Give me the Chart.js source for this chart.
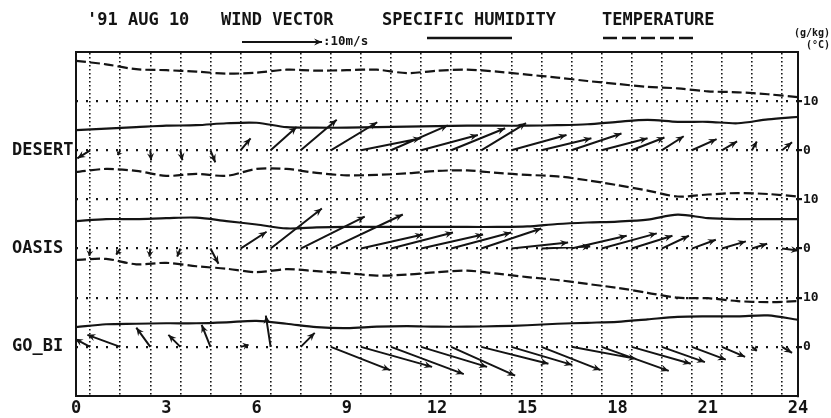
<!DOCTYPE html>
<html>
<head>
<meta charset="utf-8">
<title>'91 AUG 10 wind vector, specific humidity, temperature</title>
<style>
  body { margin: 0; background: #fff; }
  #wrap { width: 831px; height: 418px; }
</style>
</head>
<body>
<div id="wrap"><canvas id="myChart"></canvas></div>

<script src="https://cdn.jsdelivr.net/npm/chart.js"></script>
<script>
// hourly readings, in units of the right-hand scale and measured from
// each station's own "0" line
const hours = [0, 1, 2, 3, 4, 5, 6, 7, 8, 9, 10, 11, 12, 13, 14, 15, 16, 17, 18, 19, 20, 21, 22, 23, 24];

const desertHumidity = [4.1, 4.4, 4.7, 5.0, 5.1, 5.5, 5.6, 4.7, 4.6, 4.6, 4.7, 4.8, 4.9, 5.0, 5.0, 5.0, 5.1, 5.3, 5.8, 6.2, 5.8, 5.8, 5.5, 6.3, 6.8];
const desertTemp = [18.2, 17.5, 16.5, 16.3, 16.0, 15.6, 15.8, 16.4, 16.2, 16.3, 16.4, 15.7, 16.2, 16.4, 16.0, 15.4, 14.8, 14.1, 13.5, 12.9, 12.6, 12.0, 11.8, 11.4, 10.8];

const oasisHumidity = [5.6, 6.0, 6.0, 6.2, 6.3, 5.6, 4.9, 4.1, 4.3, 4.4, 4.4, 4.4, 4.4, 4.4, 4.4, 4.5, 5.0, 5.3, 5.5, 5.9, 6.9, 6.2, 6.0, 6.0, 6.0];
const oasisTemp = [15.6, 16.2, 15.8, 14.8, 15.2, 14.8, 16.2, 16.2, 15.4, 14.9, 15.0, 15.3, 15.8, 15.9, 15.4, 15.0, 14.7, 13.9, 12.9, 11.8, 10.6, 11.0, 11.3, 11.1, 10.6];

const gobiHumidity = [4.0, 4.6, 4.7, 4.8, 4.8, 5.0, 5.3, 4.7, 4.0, 3.8, 4.1, 4.2, 4.1, 4.1, 4.2, 4.4, 4.7, 4.9, 5.1, 5.6, 6.1, 6.2, 6.2, 6.4, 5.5];
const gobiTemp = [17.7, 17.9, 16.8, 17.1, 16.4, 15.9, 15.2, 15.8, 15.4, 15.0, 14.5, 14.7, 15.2, 15.5, 14.9, 14.2, 13.6, 12.8, 12.0, 11.0, 10.0, 9.9, 9.3, 9.1, 9.3];

// wind vectors (m/s, u = eastward, v = northward), tails on the dotted hour lines
const windHours = [0.47, 1.47, 2.47, 3.47, 4.47, 5.47, 6.47, 7.47, 8.47, 9.47, 10.47, 11.47, 12.47, 13.47, 14.47, 15.47, 16.47, 17.47, 18.47, 19.47, 20.47, 21.47, 22.47, 23.47];

const desertWindU = [-1.6, -0.3, 0.1, 0.25, 0.6, 1.25, 3.25, 4.5, 5.8, 7.5, 7.1, 7.1, 6.75, 5.6, 6.9, 6.25, 6.25, 5.75, 4.1, 2.75, 3.1, 1.9, 0.6, 1.25];
const desertWindV = [-1.0, -0.6, -1.25, -1.25, -1.5, 1.5, 2.9, 3.8, 3.5, 1.5, 3.1, 1.9, 2.75, 3.4, 1.9, 1.5, 2.1, 1.5, 1.6, 1.75, 1.4, 1.1, 1.1, 1.0];

const oasisWindU = [-0.1, -0.5, -0.1, -0.4, 1.0, 3.25, 6.4, 8.0, 9.0, 7.75, 7.75, 7.75, 7.5, 7.5, 7.1, 6.1, 6.9, 6.9, 5.1, 3.4, 3.0, 3.0, 1.9, 2.1];
const oasisWindV = [-0.9, -0.75, -1.0, -1.0, -1.9, 2.1, 5.0, 4.0, 4.25, 1.75, 2.0, 1.75, 2.0, 2.5, 0.75, 0.25, 1.6, 1.9, 1.6, 1.6, 1.1, 0.9, 0.6, -0.25];

const gobiWindU = [-1.9, -4.1, -1.75, -1.5, -1.1, 1.0, -0.6, 1.75, 7.4, 8.9, 9.1, 8.25, 8.0, 8.4, 7.6, 7.4, 8.1, 8.4, 7.4, 5.4, 4.25, 2.9, 0.6, 1.25];
const gobiWindV = [1.0, 1.5, 2.4, 1.5, 2.75, 0.25, 3.9, 1.75, -2.9, -2.5, -3.4, -2.5, -3.6, -2.1, -2.25, -2.9, -1.5, -3.0, -2.1, -1.9, -1.6, -1.25, -0.5, -0.75];

const stationNames = ['GO_BI', 'OASIS', 'DESERT'];
const stationZero = [0, 20, 40];      // where each station's "0" sits on the shared scale
const scaleTicks = [0, 10, 20, 30, 40, 50];
const xLabelStep = 3;

const INK = '#141414';
const MONO = "'DejaVu Sans Mono', monospace";
const VEC_H = 0.266;   // hours per m/s along the time axis
const VEC_Y = 1.63;    // scale units per m/s

function lineData(vals, base) {
    return vals.map((v, i) => ({ x: hours[i], y: v + base }));
}

function windData(u, v, base) {
    const pts = [];
    windHours.forEach((t, i) => {
        pts.push({ x: t, y: base });
        pts.push({ x: t + u[i] * VEC_H, y: base + v[i] * VEC_Y });
        pts.push({ x: t, y: null });
    });
    return pts;
}

const stations = [
    { hum: desertHumidity, temp: desertTemp, u: desertWindU, v: desertWindV, base: stationZero[2] },
    { hum: oasisHumidity, temp: oasisTemp, u: oasisWindU, v: oasisWindV, base: stationZero[1] },
    { hum: gobiHumidity, temp: gobiTemp, u: gobiWindU, v: gobiWindV, base: stationZero[0] }
];

const datasets = [];
stations.forEach(s => {
    datasets.push({
        data: lineData(s.hum, s.base),
        borderColor: INK, borderWidth: 2.2, pointRadius: 0, tension: 0.3
    });
    datasets.push({
        data: lineData(s.temp, s.base),
        borderColor: INK, borderWidth: 2.2, borderDash: [10, 4], pointRadius: 0, tension: 0.3
    });
    datasets.push({
        wind: true,
        data: windData(s.u, s.v, s.base),
        borderColor: INK, borderWidth: 2, pointRadius: 0, spanGaps: false
    });
});

function drawHead(ctx, x0, y0, x1, y1) {
    const dx = x1 - x0, dy = y1 - y0;
    const len = Math.hypot(dx, dy);
    if (len < 2) return;
    const hl = Math.min(8, len * 0.7), hw = 3.5;
    ctx.save();
    ctx.translate(x1, y1);
    ctx.rotate(Math.atan2(dy, dx));
    ctx.beginPath();
    ctx.moveTo(0, 0);
    ctx.lineTo(-hl, -hw);
    ctx.lineTo(-hl * 0.65, 0);
    ctx.lineTo(-hl, hw);
    ctx.closePath();
    ctx.fill();
    ctx.restore();
}

// arrow heads on the wind vectors
const arrowHeads = {
    id: 'arrowHeads',
    afterDatasetsDraw(chart) {
        const ctx = chart.ctx;
        ctx.save();
        ctx.fillStyle = INK;
        chart.data.datasets.forEach((ds, di) => {
            if (!ds.wind) return;
            const pts = chart.getDatasetMeta(di).data;
            for (let i = 0; i + 1 < pts.length; i += 3) {
                drawHead(ctx, pts[i].x, pts[i].y, pts[i + 1].x, pts[i + 1].y);
            }
        });
        ctx.restore();
    }
};

// heading line and the legend keys
const header = {
    id: 'header',
    afterDraw(chart) {
        const ctx = chart.ctx;
        const xs = chart.scales.x;
        ctx.save();
        ctx.fillStyle = INK;
        ctx.strokeStyle = INK;
        ctx.font = 'bold 17px ' + MONO;
        ctx.textBaseline = 'alphabetic';
        ctx.fillText("'91 AUG 10", 87, 25);
        ctx.fillText('WIND VECTOR', 221, 25);
        ctx.fillText('SPECIFIC HUMIDITY', 382, 25);
        ctx.fillText('TEMPERATURE', 602, 25);

        // 10 m/s reference arrow, same scale as the vectors
        const len = xs.getPixelForValue(10 * VEC_H) - xs.getPixelForValue(0);
        ctx.lineWidth = 2;
        ctx.beginPath();
        ctx.moveTo(242, 42);
        ctx.lineTo(242 + len, 42);
        ctx.stroke();
        drawHead(ctx, 242, 42, 242 + len, 42);
        ctx.font = 'bold 12.5px ' + MONO;
        ctx.fillText(':10m/s', 323, 45);

        ctx.lineWidth = 2.4;
        ctx.beginPath();
        ctx.moveTo(427, 38);
        ctx.lineTo(512, 38);
        ctx.stroke();

        ctx.setLineDash([14, 5]);
        ctx.beginPath();
        ctx.moveTo(603, 38);
        ctx.lineTo(696, 38);
        ctx.stroke();
        ctx.setLineDash([]);

        ctx.font = 'bold 10px ' + MONO;
        ctx.textAlign = 'right';
        ctx.fillText('(g/kg)', 830, 36);
        ctx.fillText('(°C)', 830, 48);
        ctx.restore();
    }
};

const config = {
    type: 'line',
    data: { datasets: datasets },
    options: {
        responsive: true,
        maintainAspectRatio: false,
        animation: false,
        layout: { padding: { left: 12, top: 0, right: 0, bottom: 0 } },
        plugins: { legend: { display: false }, tooltip: { enabled: false } },
        scales: {
            x: {
                type: 'linear', position: 'bottom', min: 0, max: 24,
                ticks: {
                    stepSize: xLabelStep, autoSkip: false, maxRotation: 0, padding: 2,
                    color: INK, font: { family: MONO, size: 17, weight: 'bold' }
                },
                grid: { display: false, drawTicks: false },
                border: { display: true, color: INK, width: 2 },
                afterFit: s => { s.height = 22; }
            },
            xg: {
                type: 'linear', position: 'top', min: 0, max: 24,
                afterBuildTicks: s => { s.ticks = windHours.map(v => ({ value: v })); },
                ticks: { display: false },
                grid: { color: INK, lineWidth: 1.6, drawTicks: false },
                border: { display: true, color: INK, width: 2, dash: [1.6, 2.4] },
                afterFit: s => { s.height = 52; }
            },
            y: {
                type: 'linear', position: 'left', min: -10, max: 60,
                afterBuildTicks: s => { s.ticks = stationZero.map(v => ({ value: v })); },
                ticks: {
                    autoSkip: false, crossAlign: 'far', color: INK,
                    font: { family: MONO, size: 17, weight: 'bold' },
                    callback: (v) => stationNames[stationZero.indexOf(v)]
                },
                grid: { display: false, drawTicks: false },
                border: { display: true, color: INK, width: 2 },
                afterFit: s => { s.width = 64; }
            },
            yr: {
                type: 'linear', position: 'right', min: -10, max: 60,
                afterBuildTicks: s => { s.ticks = scaleTicks.map(v => ({ value: v })); },
                ticks: {
                    autoSkip: false, padding: 1, color: INK,
                    font: { family: MONO, size: 13, weight: 'bold' },
                    callback: (v) => String(v % 20)
                },
                grid: { color: INK, lineWidth: 2.2, tickLength: 4, drawTicks: true },
                border: { display: true, color: INK, width: 2, dash: [2, 8] },
                afterFit: s => { s.width = 33; }
            }
        }
    },
    plugins: [arrowHeads, header]
};

const myChart = new Chart(document.getElementById('myChart'), config);
</script>
</body>
</html>
